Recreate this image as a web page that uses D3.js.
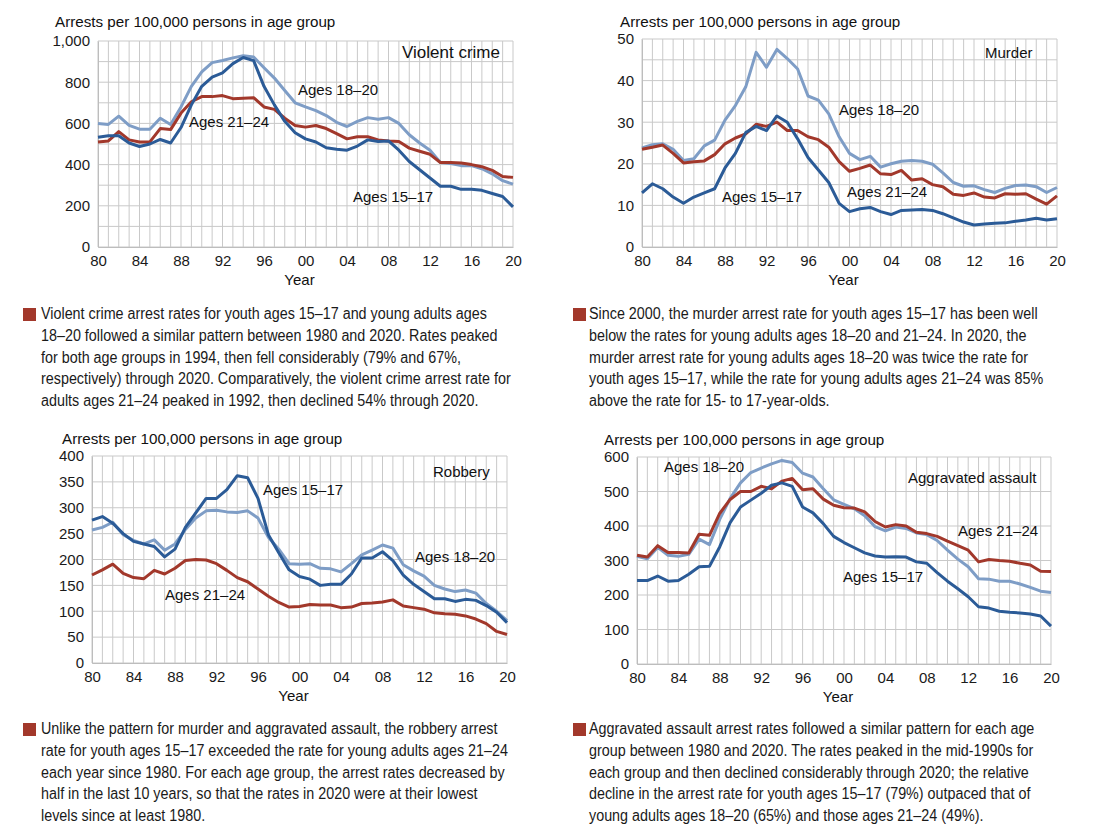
<!DOCTYPE html>
<html><head><meta charset="utf-8">
<script src="https://cdn.jsdelivr.net/npm/d3@7"></script>
<style>body{margin:0;background:#fff} svg{display:block}</style>
</head><body><svg id="c" width="1098" height="836"></svg>
<script>
const years = d3.range(1980, 2021);
const xTickYears = [1980,1984,1988,1992,1996,2000,2004,2008,2012,2016,2020];
const seriesNames = ["Ages 18–20", "Ages 21–24", "Ages 15–17"];
const seriesColors = ["#7e9dc6", "#a2382b", "#2b5b97"];

// Violent crime
const violent15 = [533,540,540,505,488,500,522,505,580,690,780,825,845,890,920,905,780,690,610,555,525,510,482,475,470,490,520,512,515,470,415,375,335,295,295,280,280,275,260,245,195];
const violent18 = [600,595,635,590,572,572,625,595,680,780,850,895,905,918,928,922,870,820,760,700,680,662,638,605,585,610,628,620,628,600,545,505,470,410,405,395,395,380,355,322,305];
const violent21 = [510,515,560,520,510,510,575,570,650,705,730,730,735,720,722,725,680,668,625,590,582,590,575,550,525,535,535,520,515,512,480,465,450,410,410,408,400,390,372,342,338];
// Murder
const murder15 = [13.0,15.2,14.0,12.0,10.5,12.0,13.0,14.0,19.0,22.5,27.5,29.0,28.0,31.5,30.0,26.0,21.5,18.5,15.5,10.5,8.5,9.2,9.5,8.5,7.8,8.8,8.9,9.0,8.8,8.0,7.0,6.0,5.3,5.5,5.7,5.8,6.2,6.5,6.9,6.5,6.8];
const murder18 = [23.8,24.6,24.8,23.5,20.8,21.2,24.3,25.7,30.5,34.0,38.5,46.8,43.2,47.5,45.3,42.8,36.3,35.3,32.0,26.5,22.5,21.0,21.8,19.2,20.0,20.6,20.8,20.6,19.9,17.8,15.5,14.6,14.7,13.8,13.1,14.1,14.8,14.9,14.5,13.1,14.3];
const murder21 = [23.5,24.0,24.5,22.5,20.2,20.5,20.7,22.2,24.8,26.2,27.2,29.5,29.0,30.0,28.0,28.0,26.5,25.8,24.0,20.5,18.2,18.9,19.7,17.6,17.4,18.4,16.1,16.4,15.0,14.5,12.7,12.4,13.0,12.0,11.8,12.8,12.7,12.8,11.5,10.3,12.3];
// Robbery
const robbery15 = [276,283,270,250,235,230,225,205,220,262,290,318,318,335,362,358,318,248,213,180,167,162,150,152,152,172,203,203,215,198,170,152,138,124,124,119,123,121,111,98,78];
const robbery18 = [257,262,272,248,237,230,238,218,230,258,280,294,295,292,291,294,280,243,220,192,191,192,183,182,176,192,209,218,228,222,190,178,168,150,143,138,141,135,115,100,82];
const robbery21 = [170,180,191,173,165,163,179,172,183,198,200,199,192,179,165,157,143,129,117,108,109,113,112,112,107,108,115,116,118,122,110,107,104,97,95,94,91,85,76,61,55];
// Aggravated assault
const assault15 = [242,242,255,240,242,260,282,283,340,410,455,475,495,518,525,515,455,438,407,370,352,337,322,313,310,311,310,296,292,265,240,218,195,166,162,153,150,148,145,139,110];
const assault18 = [312,305,338,315,312,318,362,346,420,480,525,555,568,580,590,584,553,542,508,476,463,450,430,398,386,397,393,380,375,358,330,304,282,247,246,240,240,232,222,211,207];
const assault21 = [315,310,343,323,323,322,376,373,437,477,500,500,515,508,530,538,505,508,478,460,453,452,441,413,397,404,400,382,378,370,356,343,330,296,303,300,298,292,287,269,268];

const yAxisTitle = "Arrests per 100,000 persons in age group";
const xAxisTitle = "Year";

const notes = [
 ["Violent crime arrest rates for youth ages 15–17 and young adults ages",
  "18–20 followed a similar pattern between 1980 and 2020. Rates peaked",
  "for both age groups in 1994, then fell considerably (79% and 67%,",
  "respectively) through 2020. Comparatively, the violent crime arrest rate for",
  "adults ages 21–24 peaked in 1992, then declined 54% through 2020."],
 ["Since 2000, the murder arrest rate for youth ages 15–17 has been well",
  "below the rates for young adults ages 18–20 and 21–24. In 2020, the",
  "murder arrest rate for young adults ages 18–20 was twice the rate for",
  "youth ages 15–17, while the rate for young adults ages 21–24 was 85%",
  "above the rate for 15- to 17-year-olds."],
 ["Unlike the pattern for murder and aggravated assault, the robbery arrest",
  "rate for youth ages 15–17 exceeded the rate for young adults ages 21–24",
  "each year since 1980. For each age group, the arrest rates decreased by",
  "half in the last 10 years, so that the rates in 2020 were at their lowest",
  "levels since at least 1980."],
 ["Aggravated assault arrest rates followed a similar pattern for each age",
  "group between 1980 and 2020. The rates peaked in the mid-1990s for",
  "each group and then declined considerably through 2020; the relative",
  "decline in the arrest rate for youth ages 15–17 (79%) outpaced that of",
  "young adults ages 18–20 (65%) and those ages 21–24 (49%)."]
];

const charts = [
  {title:"Violent crime", series:[violent18, violent21, violent15], max:1000, grid:100, label:200,
   box:{l:98,r:513,t:41,b:247}, titleBig:true, nameXY:[402,58],
   labels:[[298,95],[189,127],[353,202]], yTitle:[55,27], note:[23,308,41,319]},
  {title:"Murder", series:[murder18, murder21, murder15], max:50, grid:5, label:10,
   box:{l:642,r:1057,t:39,b:247}, nameXY:[985,58],
   labels:[[839,115],[847,197],[722,202]], yTitle:[620,27], note:[573,308,589,319]},
  {title:"Robbery", series:[robbery18, robbery21, robbery15], max:400, grid:50, label:50,
   box:{l:92,r:507,t:456,b:663}, nameXY:[433,477],
   labels:[[415,562],[165,600],[263,495]], yTitle:[62,444], note:[23,723,41,734]},
  {title:"Aggravated assault", series:[assault18, assault21, assault15], max:600, grid:100, label:100,
   box:{l:637,r:1051,t:457,b:664}, nameXY:[908,483],
   labels:[[664,472],[958,536],[843,582]], yTitle:[604,445], note:[573,723,589,734]}
];

const svg = d3.select("#c");
const FONT = "'Liberation Sans', Arial, Helvetica, sans-serif";

// condensed note text: Arial-metric font scaled horizontally to the reference width
const NOTE_SIZE = 16;
const probe = svg.append("text").attr("font-family", FONT).attr("font-size", NOTE_SIZE).text(notes[0][0]);
const noteScale = 446 / probe.node().getComputedTextLength();
probe.remove();

charts.forEach((c, ci) => {
  const g = svg.append("g");
  const x = d3.scaleLinear().domain([1980, 2020]).range([c.box.l, c.box.r]);
  const y = d3.scaleLinear().domain([0, c.max]).range([c.box.b, c.box.t]);

  // grid
  g.append("g").selectAll("line").data(years).join("line")
    .attr("x1", d => x(d)).attr("x2", d => x(d)).attr("y1", y(0)).attr("y2", y(c.max))
    .attr("stroke", "#c9c9c9").attr("stroke-width", 1);
  g.append("g").selectAll("line").data(d3.range(0, c.max + c.grid/2, c.grid)).join("line")
    .attr("x1", x(1980)).attr("x2", x(2020)).attr("y1", d => y(d)).attr("y2", d => y(d))
    .attr("stroke", "#c9c9c9").attr("stroke-width", 1);

  // axes
  const fmt = d3.format(",");
  const ya = g.append("g").attr("transform", `translate(${c.box.l},0)`)
    .call(d3.axisLeft(y).tickValues(d3.range(0, c.max + c.label/2, c.label)).tickFormat(fmt).tickSize(0).tickPadding(8));
  const xa = g.append("g").attr("transform", `translate(0,${c.box.b})`)
    .call(d3.axisBottom(x).tickValues(xTickYears).tickFormat(d => String(d % 100).padStart(2, "0")).tickSize(0).tickPadding(8));
  [ya, xa].forEach(a => {
    a.select(".domain").attr("stroke", "#bdbdbd");
    a.selectAll("text").attr("font-family", FONT).attr("font-size", 15).attr("fill", "#1a1a1a");
  });
  xa.selectAll("text").attr("dy", "0.71em");

  // lines
  const line = d3.line().x((d, i) => x(years[i])).y(d => y(d));
  c.series.forEach((s, si) => {
    g.append("path").datum(s).attr("d", line).attr("fill", "none")
      .attr("stroke", seriesColors[si]).attr("stroke-width", 3).attr("stroke-linejoin", "round");
  });

  // labels
  c.labels.forEach((p, si) => {
    g.append("text").attr("x", p[0]).attr("y", p[1]).text(seriesNames[si])
      .attr("font-family", FONT).attr("font-size", 15).attr("fill", "#111");
  });
  g.append("text").attr("x", c.nameXY[0]).attr("y", c.nameXY[1]).text(c.title)
    .attr("font-family", FONT).attr("font-size", c.titleBig ? 17 : 15).attr("fill", "#111");

  // axis titles
  g.append("text").attr("x", c.yTitle[0]).attr("y", c.yTitle[1]).text(yAxisTitle)
    .attr("font-family", FONT).attr("font-size", 15.2).attr("fill", "#111");
  g.append("text").attr("x", (c.box.l + c.box.r) / 2 - 6).attr("y", c.box.b + 38).text(xAxisTitle)
    .attr("text-anchor", "middle").attr("font-family", FONT).attr("font-size", 15).attr("fill", "#111");

  // note
  const n = c.note;
  g.append("rect").attr("x", n[0]).attr("y", n[1]).attr("width", 13).attr("height", 13).attr("fill", "#a2382b");
  const t = g.append("text").attr("transform", `translate(${n[2]},0) scale(${noteScale},1)`)
    .attr("font-family", FONT).attr("font-size", NOTE_SIZE).attr("fill", "#1a1a1a");
  notes[ci].forEach((ln, li) => {
    t.append("tspan").attr("x", 0).attr("y", n[3] + li * 21.8).text(ln);
  });
});
</script>
</body></html>
